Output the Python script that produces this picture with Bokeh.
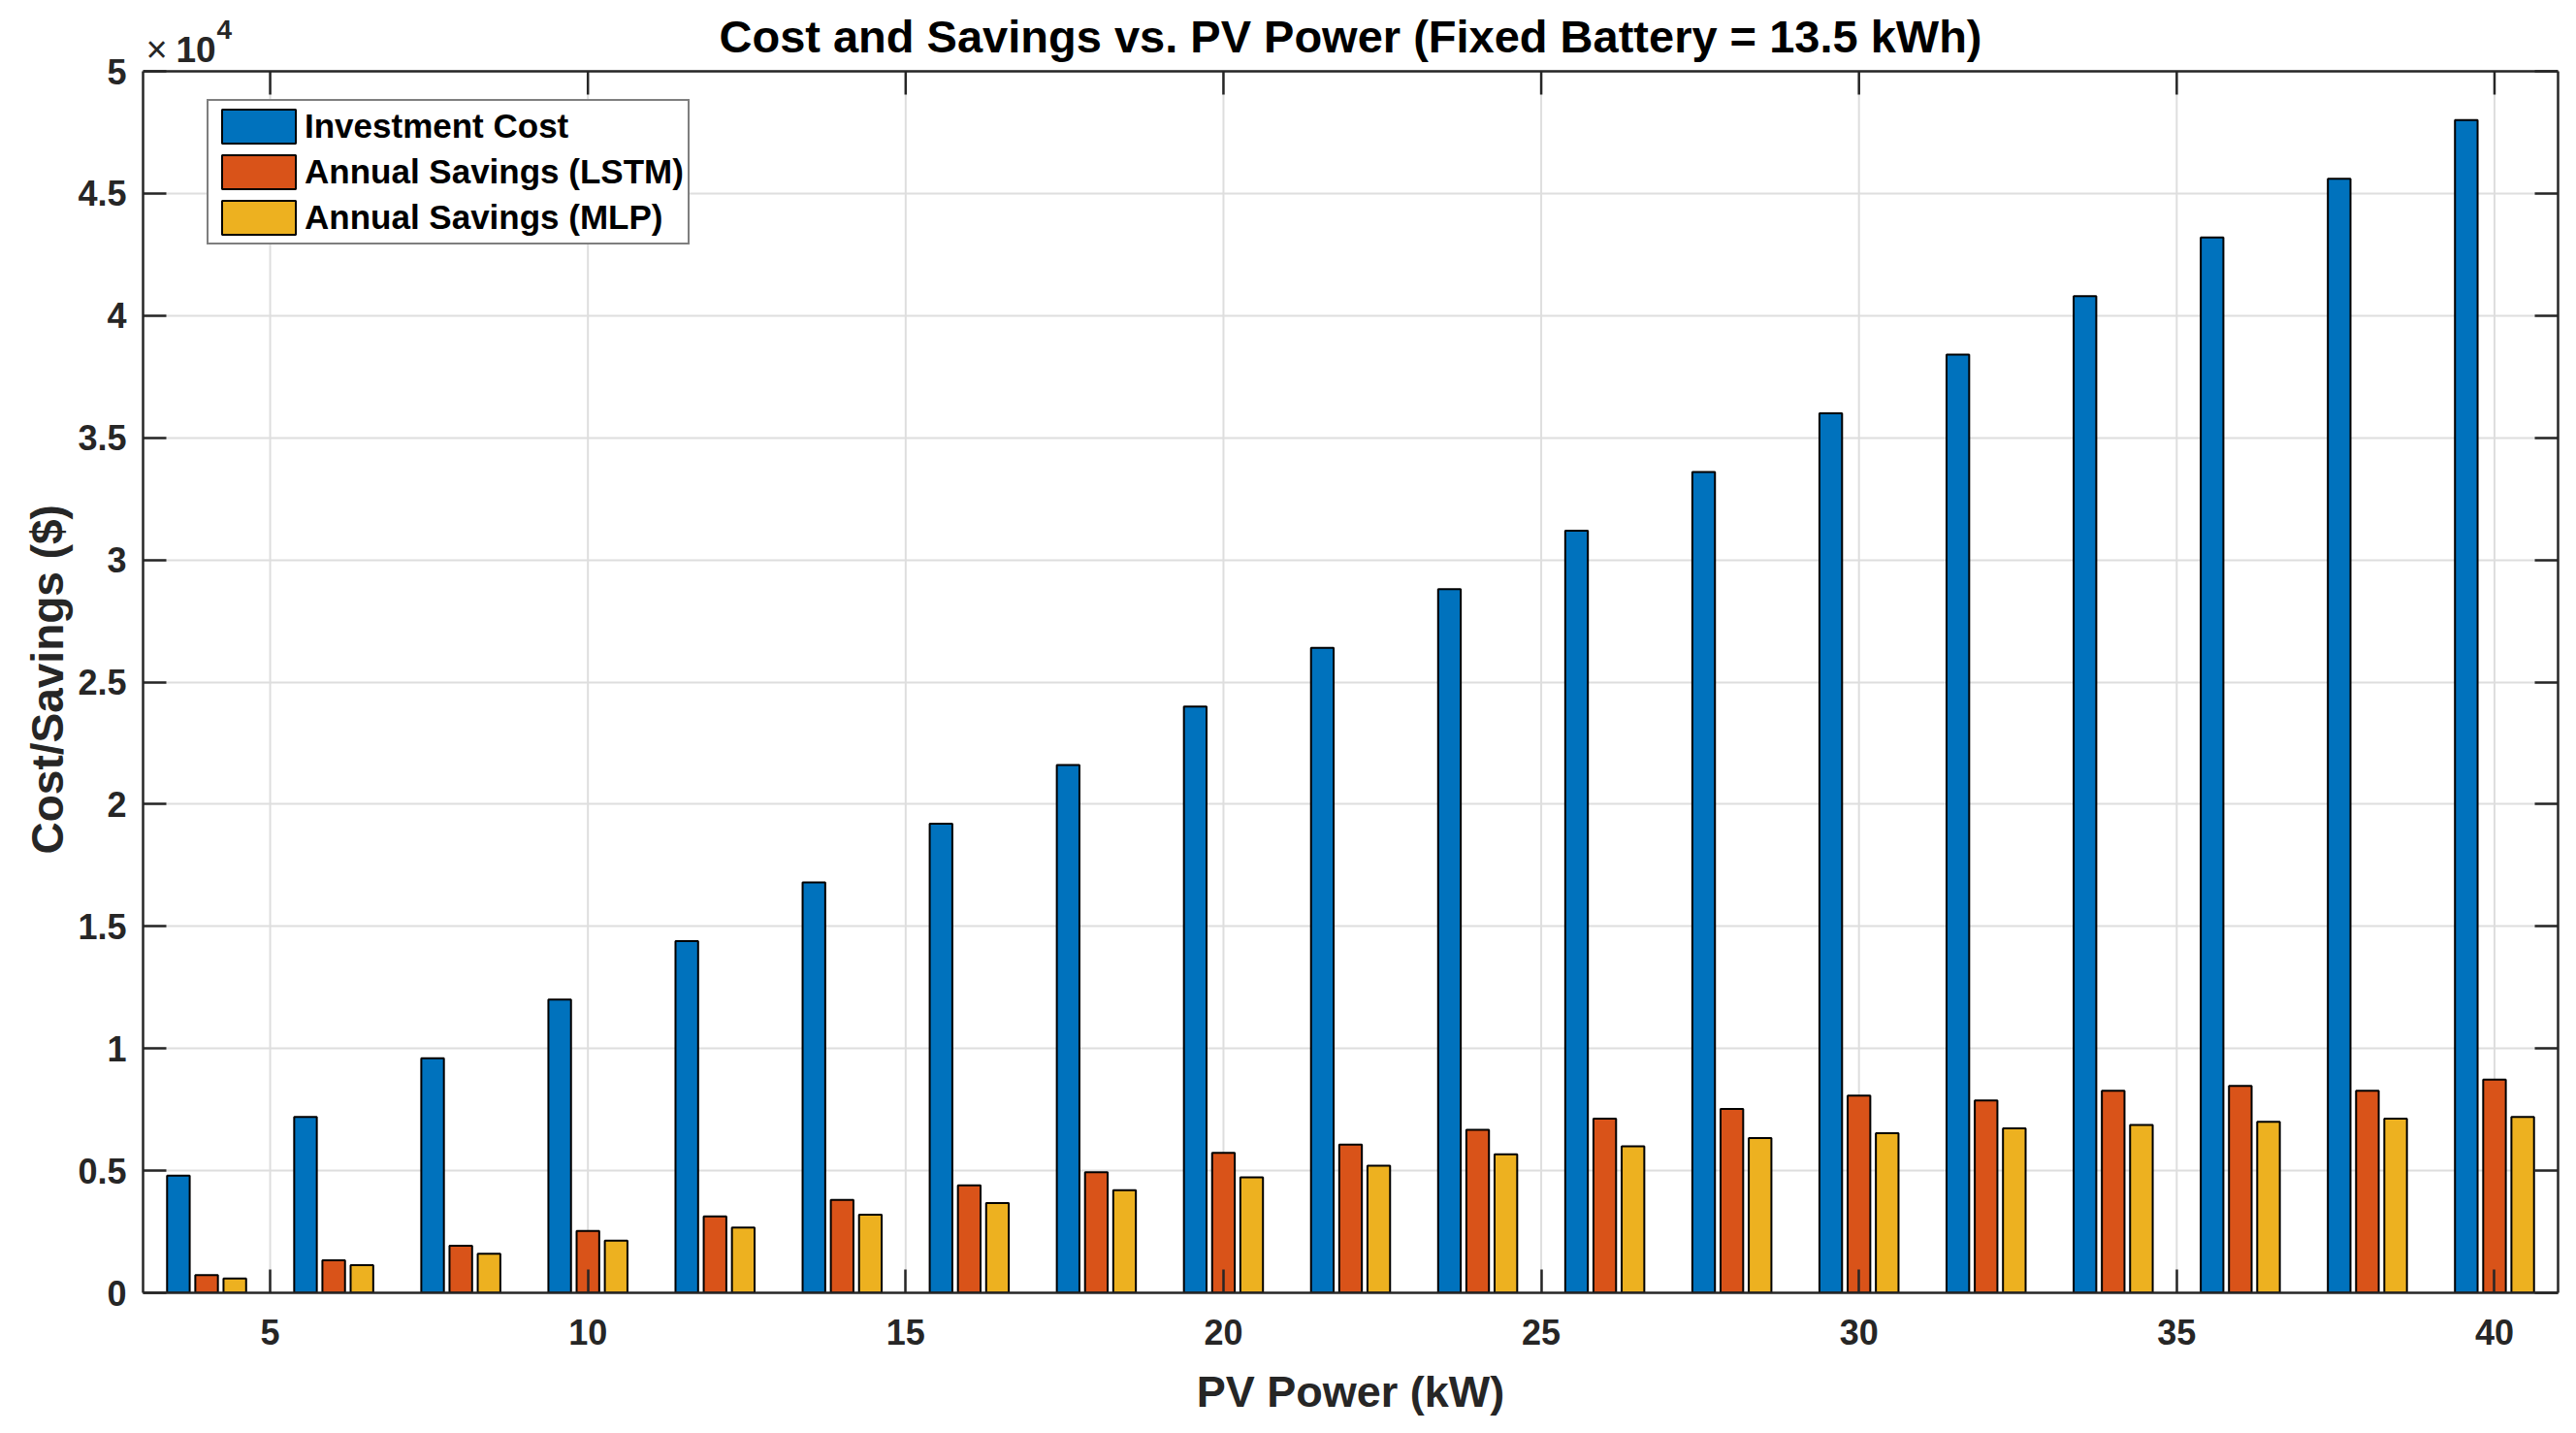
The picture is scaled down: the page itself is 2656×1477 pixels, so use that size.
import math
from bokeh.plotting import figure
from bokeh.models import (FixedTicker, LinearAxis, Label, Range1d, ColumnDataSource,
                          Span, Title)
from bokeh.transform import dodge
from bokeh.embed import file_html
from bokeh.resources import INLINE

# ---- data ----
pv_power = [4, 6, 8, 10, 12, 14, 16, 18, 20, 22, 24, 26, 28, 30, 32, 34, 36, 38, 40]
investment_cost = [4800, 7200, 9600, 12000, 14400, 16800, 19200, 21600, 24000, 26400,
                   28800, 31200, 33600, 36000, 38400, 40800, 43200, 45600, 48000]
savings_lstm = [720, 1330, 1930, 2530, 3130, 3800, 4400, 4930, 5730, 6070,
                6670, 7130, 7530, 8070, 7870, 8270, 8470, 8270, 8730]
savings_mlp = [590, 1130, 1600, 2130, 2670, 3200, 3670, 4200, 4730, 5200,
               5670, 6000, 6330, 6530, 6730, 6870, 7000, 7130, 7200]
x_ticks = [5, 10, 15, 20, 25, 30, 35, 40]
y_ticks = [0, 5000, 10000, 15000, 20000, 25000, 30000, 35000, 40000, 45000, 50000]
y_tick_labels = ["0", "0.5", "1", "1.5", "2", "2.5", "3", "3.5", "4", "4.5", "5"]
series_names = ["Investment Cost", "Annual Savings (LSTM)", "Annual Savings (MLP)"]
title_text = "Cost and Savings vs. PV Power (Fixed Battery = 13.5 kWh)"
x_label = "PV Power (kW)"
y_label = "Cost/Savings ($)"

FONT = "Liberation Sans"
TXT = "#262626"
colors = ["#0072BD", "#D95319", "#EDB120"]

# ---- layout (pixels) ----
W, H = 2648, 1469
BOX_TOP, FRAME_H = 73, 1332          # axes box top inside frame, frame height
x_lo, x_hi = 3, 41
y_box_top = y_ticks[-1]
y_hi = y_box_top * FRAME_H / (FRAME_H - BOX_TOP)   # frame extends above the box for title

src = ColumnDataSource(dict(pv=pv_power, inv=investment_cost, lstm=savings_lstm, mlp=savings_mlp))

p = figure(width=W, height=H, x_range=Range1d(x_lo, x_hi), y_range=Range1d(0, y_hi),
           output_backend="svg", toolbar_location=None,
           min_border_left=147, min_border_right=11, min_border_top=0,
           min_border_bottom=H - FRAME_H)
p.title.visible = False
p.background_fill_color = "white"
p.border_fill_color = "white"
p.outline_line_color = None

# vertical grid lines (only inside the box)
p.segment(x0=x_ticks, y0=[y_ticks[0]] * len(x_ticks), x1=x_ticks, y1=[y_box_top] * len(x_ticks),
          line_color="#dedede", line_width=2)
p.xgrid.visible = False
p.ygrid.ticker = FixedTicker(ticks=y_ticks)
p.ygrid.grid_line_color = "#dedede"
p.ygrid.grid_line_width = 2

bw = 0.356
off = 0.444
p.vbar(x=dodge("pv", -off, range=p.x_range), top="inv", width=bw, source=src,
       fill_color=colors[0], line_color="black", line_width=2, legend_label=series_names[0])
p.vbar(x=dodge("pv", 0.0, range=p.x_range), top="lstm", width=bw, source=src,
       fill_color=colors[1], line_color="black", line_width=2, legend_label=series_names[1])
p.vbar(x=dodge("pv", off, range=p.x_range), top="mlp", width=bw, source=src,
       fill_color=colors[2], line_color="black", line_width=2, legend_label=series_names[2])

# top box line and inward top ticks
p.add_layout(Span(location=y_box_top, dimension="width", line_color=TXT, line_width=2.5))
p.ray(x=x_ticks, y=[y_box_top] * len(x_ticks), length=24, length_units="screen",
      angle=-math.pi / 2, line_color=TXT, line_width=2.5)

def style_axis(ax, labels=True):
    ax.axis_line_color = TXT
    ax.axis_line_width = 2.5
    ax.major_tick_line_color = TXT
    ax.major_tick_line_width = 2.5
    ax.major_tick_in = 24
    ax.major_tick_out = 0
    ax.minor_tick_in = 0
    ax.minor_tick_out = 0
    ax.major_label_text_font = FONT
    ax.major_label_text_font_style = "bold"
    ax.major_label_text_color = TXT
    ax.axis_label_text_font = FONT
    ax.axis_label_text_font_style = "bold"
    ax.axis_label_text_color = TXT
    ax.axis_label_text_font_size = "45px"
    if labels:
        ax.major_label_text_font_size = "36px"
    else:
        ax.major_label_text_font_size = "0px"
        ax.major_label_standoff = 0

xax = p.xaxis[0]
xax.ticker = FixedTicker(ticks=x_ticks)
style_axis(xax)
xax.axis_label = x_label
xax.major_label_standoff = 27
xax.axis_label_standoff = 20

yax = p.yaxis[0]
yax.ticker = FixedTicker(ticks=y_ticks)
yax.major_label_overrides = {t: l for t, l in zip(y_ticks, y_tick_labels)}
yax.bounds = (y_ticks[0], y_box_top)
style_axis(yax)
yax.major_label_standoff = 17

right_ax = LinearAxis(ticker=FixedTicker(ticks=y_ticks), major_label_overrides={t: "" for t in y_ticks},
                      bounds=(y_ticks[0], y_box_top))
style_axis(right_ax, labels=False)
p.add_layout(right_ax, "right")

# y axis label as a rotated title on the left, positioned along the box
ytitle = Title(text=y_label, align="left", offset=452, standoff=6,
               text_font=FONT, text_font_size="46px", text_font_style="bold", text_color=TXT)
p.add_layout(ytitle, "left")

# chart title and exponent, inside the frame above the box
p.add_layout(Label(x=(x_lo + x_hi) / 2, y=y_box_top, y_offset=36, text=title_text,
                   text_font=FONT, text_font_size="47px", text_font_style="bold",
                   text_color="black", text_align="center", text_baseline="alphabetic"))
p.add_layout(Label(x=x_lo, y=y_box_top, x_offset=3, y_offset=23, text="\u00d7", text_font=FONT,
                   text_font_size="38px", text_color=TXT, text_baseline="alphabetic"))
p.add_layout(Label(x=x_lo, y=y_box_top, x_offset=34, y_offset=23, text="10", text_font=FONT,
                   text_font_size="37px", text_font_style="bold", text_color=TXT,
                   text_baseline="alphabetic"))
p.add_layout(Label(x=x_lo, y=y_box_top, x_offset=76, y_offset=43, text="4", text_font=FONT,
                   text_font_size="28px", text_font_style="bold", text_color=TXT,
                   text_baseline="alphabetic"))

leg = p.legend[0]
leg.location = (66, 1080)
leg.label_text_font = FONT
leg.label_text_font_size = "35px"
leg.label_text_font_style = "bold"
leg.label_text_color = "black"
leg.glyph_width = 95
leg.glyph_height = 44
leg.label_height = 40
leg.label_standoff = 0
leg.spacing = 3
leg.padding = 4
leg.margin = 0
leg.border_line_color = "black"
leg.border_line_width = 2
leg.background_fill_color = "white"
leg.background_fill_alpha = 1.0

open("out.html", "w").write(file_html(p, INLINE))
